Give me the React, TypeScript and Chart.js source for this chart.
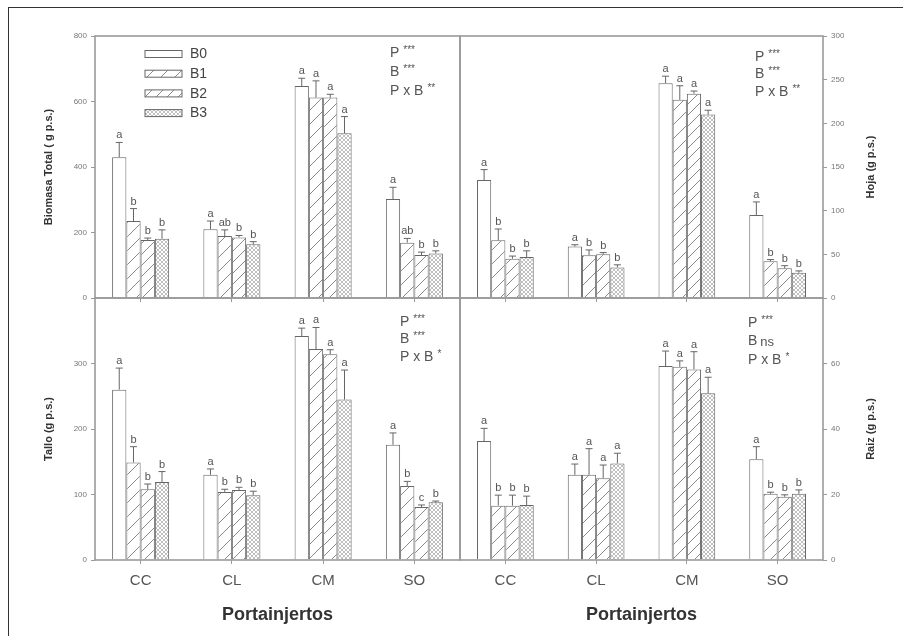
import React, { useEffect, useRef } from 'react';
import { Chart, registerables } from 'chart.js';
Chart.register(...registerables);

// ---------- DATA ----------
const categories = ['CC', 'CL', 'CM', 'SO'];
const seriesLabels = ['B0', 'B1', 'B2', 'B3'];

// Biomasa Total (g p.s.)
const biomasaB0 = [430, 210, 647, 302];
const biomasaB1 = [235, 189, 612, 169];
const biomasaB2 = [177, 185, 612, 131];
const biomasaB3 = [181, 164, 503, 136];
const biomasaErrB0 = [45, 25, 24, 36];
const biomasaErrB1 = [38, 19, 51, 13];
const biomasaErrB2 = [6, 6, 10, 9];
const biomasaErrB3 = [27, 8, 51, 8];
const biomasaLetB0 = ['a', 'a', 'a', 'a'];
const biomasaLetB1 = ['b', 'ab', 'a', 'ab'];
const biomasaLetB2 = ['b', 'b', 'a', 'b'];
const biomasaLetB3 = ['b', 'b', 'a', 'b'];

// Hoja (g p.s.)
const hojaB0 = [135, 59, 246, 95];
const hojaB1 = [66, 49, 227, 42];
const hojaB2 = [45, 50, 234, 34];
const hojaB3 = [47, 35, 210, 29];
const hojaErrB0 = [12, 2, 8, 15];
const hojaErrB1 = [13, 6, 16, 2];
const hojaErrB2 = [3, 2, 3, 3];
const hojaErrB3 = [7, 3, 5, 2];
const hojaLetB0 = ['a', 'a', 'a', 'a'];
const hojaLetB1 = ['b', 'b', 'a', 'b'];
const hojaLetB2 = ['b', 'b', 'a', 'b'];
const hojaLetB3 = ['b', 'b', 'a', 'b'];

// Tallo (g p.s.)
const talloB0 = [260, 130, 342, 176];
const talloB1 = [149, 104, 322, 113];
const talloB2 = [108, 107, 314, 81];
const talloB3 = [119, 99, 245, 88];
const talloErrB0 = [33, 9, 12, 18];
const talloErrB1 = [24, 4, 33, 7];
const talloErrB2 = [8, 4, 7, 3];
const talloErrB3 = [16, 6, 45, 2];
const talloLetB0 = ['a', 'a', 'a', 'a'];
const talloLetB1 = ['b', 'b', 'a', 'b'];
const talloLetB2 = ['b', 'b', 'a', 'c'];
const talloLetB3 = ['b', 'b', 'a', 'b'];

// Raiz (g p.s.)
const raizB0 = [36.3, 26, 59.2, 30.8];
const raizB1 = [16.6, 26, 59, 20.2];
const raizB2 = [16.6, 25, 58.2, 19.3];
const raizB3 = [16.8, 29.5, 50.9, 20.2];
const raizErrB0 = [3.9, 3.3, 4.6, 3.8];
const raizErrB1 = [3.2, 8, 1.8, 0.5];
const raizErrB2 = [3.2, 4, 5.4, 0.6];
const raizErrB3 = [2.7, 3.1, 4.9, 1.2];
const raizLetB0 = ['a', 'a', 'a', 'a'];
const raizLetB1 = ['b', 'a', 'a', 'b'];
const raizLetB2 = ['b', 'a', 'a', 'b'];
const raizLetB3 = ['b', 'a', 'a', 'b'];

// Significance annotations
const statsBiomasa = [['P', '***'], ['B', '***'], ['P x B', '**']];
const statsHoja = [['P', '***'], ['B', '***'], ['P x B', '**']];
const statsTallo = [['P', '***'], ['B', '***'], ['P x B', '*']];
const statsRaiz = [['P', '***'], ['B', 'ns'], ['P x B', '*']];

const xTitle = 'Portainjertos';

// ---------- STYLE ----------
const FONT = 'Arial, "Liberation Sans", Helvetica, sans-serif';
const W = 903;
const H = 636;

function makeHatch(size: number, color: string, lw: number, cross: boolean) {
  const c = document.createElement('canvas');
  c.width = size;
  c.height = size;
  const g = c.getContext('2d')!;
  g.fillStyle = '#ffffff';
  g.fillRect(0, 0, size, size);
  g.strokeStyle = color;
  g.lineWidth = lw;
  g.beginPath();
  g.moveTo(-1, size + 1);
  g.lineTo(size + 1, -1);
  g.moveTo(-1, 1);
  g.lineTo(1, -1);
  g.moveTo(size - 1, size + 1);
  g.lineTo(size + 1, size - 1);
  if (cross) {
    g.moveTo(-1, -1);
    g.lineTo(size + 1, size + 1);
    g.moveTo(size - 1, -1);
    g.lineTo(size + 1, 1);
    g.moveTo(-1, size - 1);
    g.lineTo(1, size + 1);
  }
  g.stroke();
  return g.createPattern(c, 'repeat') as CanvasPattern;
}

type PanelCfg = {
  values: number[][];
  errors: number[][];
  letters: string[][];
  max: number;
  step: number;
  hideMaxLabel: boolean;
  side: 'left' | 'right';
  padding: { left: number; top: number; right: number; bottom: number };
  yWidth: number;
  xHeight: number;
  yTitle: string;
  showX: boolean;
  legend: boolean;
  stats: string[][];
  statsOffset: [number, number, number];
};

const panelCfgs: PanelCfg[] = [
  {
    values: [biomasaB0, biomasaB1, biomasaB2, biomasaB3],
    errors: [biomasaErrB0, biomasaErrB1, biomasaErrB2, biomasaErrB3],
    letters: [biomasaLetB0, biomasaLetB1, biomasaLetB2, biomasaLetB3],
    max: 800, step: 200, hideMaxLabel: false, side: 'left',
    padding: { left: 42, top: 36, right: 443, bottom: 338 }, yWidth: 53, xHeight: 0,
    yTitle: 'Biomasa Total ( g p.s.)', showX: false, legend: true,
    stats: statsBiomasa, statsOffset: [295, 17, 19],
  },
  {
    values: [hojaB0, hojaB1, hojaB2, hojaB3],
    errors: [hojaErrB0, hojaErrB1, hojaErrB2, hojaErrB3],
    letters: [hojaLetB0, hojaLetB1, hojaLetB2, hojaLetB3],
    max: 300, step: 50, hideMaxLabel: false, side: 'right',
    padding: { left: 460, top: 36, right: 20, bottom: 338 }, yWidth: 60, xHeight: 0,
    yTitle: 'Hoja (g p.s.)', showX: false, legend: false,
    stats: statsHoja, statsOffset: [295, 21, 17.5],
  },
  {
    values: [talloB0, talloB1, talloB2, talloB3],
    errors: [talloErrB0, talloErrB1, talloErrB2, talloErrB3],
    letters: [talloLetB0, talloLetB1, talloLetB2, talloLetB3],
    max: 400, step: 100, hideMaxLabel: true, side: 'left',
    padding: { left: 42, top: 298, right: 443, bottom: 10 }, yWidth: 53, xHeight: 66,
    yTitle: 'Tallo (g p.s.)', showX: true, legend: false,
    stats: statsTallo, statsOffset: [305, 24, 17.5],
  },
  {
    values: [raizB0, raizB1, raizB2, raizB3],
    errors: [raizErrB0, raizErrB1, raizErrB2, raizErrB3],
    letters: [raizLetB0, raizLetB1, raizLetB2, raizLetB3],
    max: 80, step: 20, hideMaxLabel: true, side: 'right',
    padding: { left: 460, top: 298, right: 20, bottom: 10 }, yWidth: 60, xHeight: 66,
    yTitle: 'Raiz (g p.s.)', showX: true, legend: false,
    stats: statsRaiz, statsOffset: [288, 25, 18.5],
  },
];

function buildChart(canvas: HTMLCanvasElement, cfg: PanelCfg, fills: (string | CanvasPattern)[]) {
  const annotPlugin = {
    id: 'annot',
    afterDatasetsDraw(chart: any) {
      const ctx = chart.ctx as CanvasRenderingContext2D;
      const ca = chart.chartArea;
      const y = chart.scales.y;
      ctx.save();
      // error bars + letters
      cfg.values.forEach((_, di) => {
        const meta = chart.getDatasetMeta(di);
        meta.data.forEach((el: any, i: number) => {
          const v = cfg.values[di][i];
          const e = cfg.errors[di][i];
          const yTop = y.getPixelForValue(v + e);
          const yBar = y.getPixelForValue(v);
          ctx.strokeStyle = '#666';
          ctx.lineWidth = 1;
          ctx.beginPath();
          ctx.moveTo(el.x, yBar);
          ctx.lineTo(el.x, yTop);
          ctx.moveTo(el.x - 3.5, yTop);
          ctx.lineTo(el.x + 3.5, yTop);
          ctx.stroke();
          ctx.fillStyle = '#555';
          ctx.font = `11px ${FONT}`;
          ctx.textAlign = 'center';
          ctx.textBaseline = 'alphabetic';
          ctx.fillText(cfg.letters[di][i], el.x, yTop - 4);
        });
      });
      // frame
      ctx.strokeStyle = '#9a9a9a';
      ctx.lineWidth = 1.6;
      ctx.strokeRect(ca.left, ca.top, ca.right - ca.left, ca.bottom - ca.top);
      // stats
      const [dx, dy, st] = cfg.statsOffset;
      cfg.stats.forEach((s, k) => {
        const tx = ca.left + dx;
        const ty = ca.top + dy + k * st;
        ctx.fillStyle = '#555';
        ctx.textAlign = 'left';
        ctx.textBaseline = 'middle';
        ctx.font = `14px ${FONT}`;
        ctx.fillText(s[0], tx, ty);
        const w = ctx.measureText(s[0]).width;
        if (s[1] === 'ns') {
          ctx.font = `13px ${FONT}`;
          ctx.fillText(s[1], tx + w + 3, ty + 1);
        } else {
          ctx.font = `10px ${FONT}`;
          ctx.fillText(s[1], tx + w + 4, ty - 3);
        }
      });
      // legend
      if (cfg.legend) {
        chart.data.datasets.forEach((ds: any, k: number) => {
          const bx = ca.left + 50;
          const by = ca.top + 18 + k * 19.7;
          ctx.fillStyle = ds.backgroundColor;
          ctx.fillRect(bx, by - 3.5, 37, 7);
          ctx.strokeStyle = '#666';
          ctx.lineWidth = 1;
          ctx.strokeRect(bx, by - 3.5, 37, 7);
          ctx.fillStyle = '#444';
          ctx.font = `14px ${FONT}`;
          ctx.textAlign = 'left';
          ctx.textBaseline = 'middle';
          ctx.fillText(ds.label, bx + 45, by + 0.5);
        });
      }
      // right side title (reads bottom-to-top)
      if (cfg.side === 'right') {
        ctx.save();
        ctx.translate(ca.right + 48, (ca.top + ca.bottom) / 2);
        ctx.rotate(-Math.PI / 2);
        ctx.font = `bold 11px ${FONT}`;
        ctx.fillStyle = '#333';
        ctx.textAlign = 'center';
        ctx.textBaseline = 'middle';
        ctx.fillText(cfg.yTitle, 0, 0);
        ctx.restore();
      }
      ctx.restore();
    },
  };

  return new Chart(canvas, {
    type: 'bar',
    data: {
      labels: categories,
      datasets: cfg.values.map((vals, i) => ({
        label: seriesLabels[i],
        data: vals,
        backgroundColor: fills[i] as any,
        borderColor: '#666',
        borderWidth: 1,
        barPercentage: 1,
        categoryPercentage: 0.625,
      })),
    },
    options: {
      responsive: false,
      animation: false,
      events: [],
      layout: { padding: cfg.padding },
      plugins: { legend: { display: false }, tooltip: { enabled: false }, title: { display: false } },
      scales: {
        x: {
          grid: { display: true, drawOnChartArea: false, drawTicks: true, tickLength: 4, offset: false, color: '#9a9a9a' },
          border: { display: false },
          ticks: { display: cfg.showX, color: '#555', padding: 8, font: { family: FONT, size: 15 } },
          title: {
            display: cfg.showX, text: xTitle, color: '#333', padding: 0,
            font: { family: FONT, size: 18, weight: 'bold' },
          },
          afterFit: (s: any) => { s.height = cfg.xHeight; },
        },
        y: {
          position: cfg.side,
          min: 0,
          max: cfg.max,
          grid: { display: true, drawOnChartArea: false, drawTicks: true, tickLength: 4, color: '#9a9a9a' },
          border: { display: false },
          ticks: {
            stepSize: cfg.step,
            color: '#777',
            padding: 4,
            font: { family: FONT, size: 8 },
            callback: (v: any) => (cfg.hideMaxLabel && v === cfg.max ? '' : String(v)),
          },
          title: {
            display: cfg.side === 'left', text: cfg.yTitle, color: '#333', padding: 0,
            font: { family: FONT, size: 11, weight: 'bold' },
          },
          afterFit: (s: any) => { s.width = cfg.yWidth; },
        },
      },
    } as any,
    plugins: [annotPlugin],
  });
}

export default function App() {
  const c0 = useRef<HTMLCanvasElement>(null);
  const c1 = useRef<HTMLCanvasElement>(null);
  const c2 = useRef<HTMLCanvasElement>(null);
  const c3 = useRef<HTMLCanvasElement>(null);

  useEffect(() => {
    const fills: (string | CanvasPattern)[] = [
      '#ffffff',
      makeHatch(14, '#8a8a8a', 1, false),
      makeHatch(11, '#8a8a8a', 1, false),
      makeHatch(4, '#b0b0b0', 0.8, true),
    ];
    const refs = [c0, c1, c2, c3];
    const charts = refs.map((r, i) => buildChart(r.current!, panelCfgs[i], fills));
    return () => charts.forEach((c) => c.destroy());
  }, []);

  const canvasStyle: React.CSSProperties = { position: 'absolute', left: 0, top: 0, width: W, height: H };
  return (
    <div style={{ position: 'fixed', left: 0, top: 0, width: W, height: H, overflow: 'hidden', background: '#fff' }}>
      <div style={{ position: 'absolute', left: 8, top: 7, width: 2000, height: 2000, borderTop: '1.5px solid #333', borderLeft: '1.5px solid #333' }} />
      <canvas ref={c0} width={W} height={H} style={canvasStyle} />
      <canvas ref={c1} width={W} height={H} style={canvasStyle} />
      <canvas ref={c2} width={W} height={H} style={canvasStyle} />
      <canvas ref={c3} width={W} height={H} style={canvasStyle} />
    </div>
  );
}
